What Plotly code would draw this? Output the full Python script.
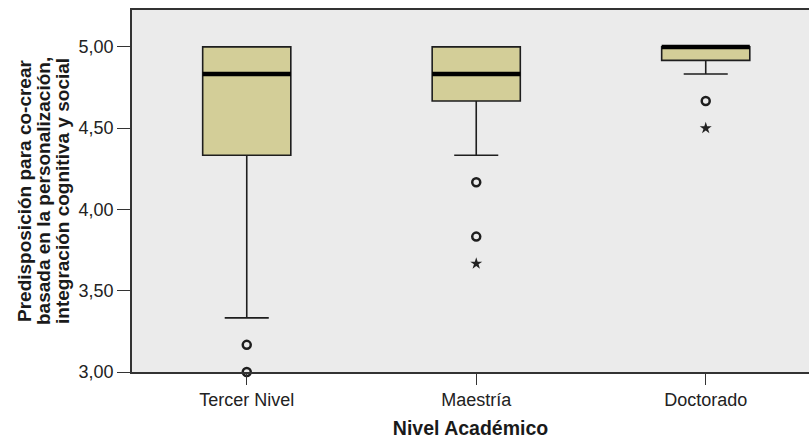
import plotly.graph_objects as go

categories = ["Tercer Nivel", "Maestría", "Doctorado"]
q1 = [4.333, 4.667, 4.917]
medians = [4.833, 4.833, 5.0]
q3 = [5.0, 5.0, 5.0]
lower_whisker = [3.333, 4.333, 4.833]
upper_whisker = [5.0, 5.0, 5.0]
outliers_circle = [[3.167, 3.0], [4.167, 3.833], [4.667]]
outliers_star = [[], [3.667], [4.5]]
y_ticks = [3.0, 3.5, 4.0, 4.5, 5.0]
y_title_lines = ["Predisposición para co-crear",
                 "basada en la personalización,",
                 "integración cognitiva y social"]
x_title = "Nivel Académico"

W, H = 809, 439
ML, MR, MT, MB = 132, 0, 10, 67
BOX_W = 0.384
FILL = "#D3CE98"
LINE = "#1e1e1e"
FONT = "Liberation Sans, Arial, sans-serif"

fig = go.Figure()
xs = list(range(len(categories)))
for i in xs:
    fig.add_trace(go.Box(
        x=[i], q1=[q1[i]], median=[medians[i]], q3=[q3[i]],
        lowerfence=[lower_whisker[i]], upperfence=[upper_whisker[i]],
        width=BOX_W, whiskerwidth=0.5, fillcolor=FILL,
        line=dict(color=LINE, width=1.6), boxpoints=False,
        showlegend=False, hoverinfo="skip"))
    fig.add_trace(go.Scatter(
        x=[i - BOX_W / 2, i + BOX_W / 2], y=[medians[i], medians[i]],
        mode="lines", line=dict(color="black", width=4.5),
        showlegend=False, hoverinfo="skip"))
    if outliers_circle[i]:
        fig.add_trace(go.Scatter(
            x=[i] * len(outliers_circle[i]), y=outliers_circle[i], mode="markers",
            marker=dict(symbol="circle-open", size=8, color=LINE, line=dict(width=2.5, color=LINE)),
            cliponaxis=False, showlegend=False, hoverinfo="skip"))
    if outliers_star[i]:
        fig.add_trace(go.Scatter(
            x=[i] * len(outliers_star[i]), y=outliers_star[i], mode="markers",
            marker=dict(symbol="star", size=9, color="#222222", line=dict(width=0)),
            cliponaxis=False, showlegend=False, hoverinfo="skip"))

plot_w = W - ML - MR
title_px = [24, 43, 62]
annotations = [dict(
    text="<b>%s</b>" % t, xref="paper", yref="paper",
    x=(px - ML) / plot_w, y=0.5, xanchor="center", yanchor="middle",
    textangle=-90, showarrow=False, font=dict(family=FONT, size=19, color="#1a1a1a"))
    for t, px in zip(y_title_lines, title_px)]

fig.update_layout(
    width=W, height=H,
    margin=dict(l=ML, r=MR, t=MT, b=MB),
    paper_bgcolor="white", plot_bgcolor="#EBEBEB",
    separators=",.",
    font=dict(family=FONT, size=18, color="#222222"),
    xaxis=dict(
        range=[-0.5, 2.45], tickmode="array", tickvals=xs, ticktext=categories,
        showgrid=False, zeroline=False, showline=True, linecolor="#333333", linewidth=1.5,
        mirror=True, ticks="outside", ticklen=11, tickcolor="#333333",
        tickfont=dict(size=18, color="#222222"),
        title=dict(text="<b>%s</b>" % x_title, font=dict(size=19.5, color="#1a1a1a"), standoff=12)),
    yaxis=dict(
        range=[3.0, 5.227], tickmode="array", tickvals=y_ticks, tickformat=".2f",
        showgrid=False, zeroline=False, showline=True, linecolor="#333333", linewidth=1.5,
        ticks="outside", ticklen=13, tickcolor="#333333",
        tickfont=dict(size=18, color="#222222")),
    annotations=annotations,
)

fig.write_html("out.html", config={"displayModeBar": False},
               post_script="document.body.style.margin='0';document.body.style.overflow='hidden';")
